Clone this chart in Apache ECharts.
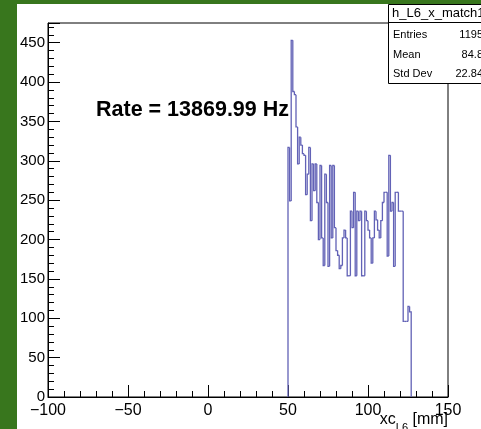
<!DOCTYPE html>
<html>
<head>
<meta charset="utf-8">
<script src="https://cdn.jsdelivr.net/npm/echarts@6/dist/echarts.min.js"></script>
<style>
    html, body {
        margin: 0;
        padding: 0;
        width: 481px;
        height: 429px;
        background: #38761d;
        overflow: hidden;
    }
    #h_L6 {
        position: absolute;
        left: 17px;
        top: 4px;
        width: 464px;
        height: 425px;
        background: #ffffff;
    }
</style>
</head>
<body>
<div id="h_L6"></div>
<script>
// histogram h_L6_x_match1, 1 mm bins starting at 50 mm
var binStart = 50;
var binWidth = 1;
var counts = [
    317, 249, 453, 388, 384, 343, 296, 330, 320, 309,
    307, 257, 283, 317, 224, 296, 262, 296, 247, 200,
    294, 202, 167, 283, 247, 166, 294, 202, 294, 215,
    186, 180, 163, 167, 202, 212, 202, 154, 154, 236,
    215, 260, 154, 236, 224, 236, 154, 154, 236, 224,
    212, 202, 170, 202, 236, 225, 212, 202, 224, 247,
    260, 260, 179, 307, 236, 247, 166, 260, 260, 236,
    236, 236, 96, 96, 96, 115, 108
];
var xTicks = [-100, -50, 0, 50, 100, 150];
var yTicks = [0, 50, 100, 150, 200, 250, 300, 350, 400, 450];
var statNames = ['Entries', 'Mean', 'Std Dev'];
var statValues = ['1195', '84.8', '22.84'];
var histName = 'h_L6_x_match1';
var rateText = 'Rate = 13869.99 Hz';

// one item per bin: [low edge, high edge, previous bin content, content]
var bins = counts.map(function (c, i) {
    return [binStart + i * binWidth, binStart + (i + 1) * binWidth, i > 0 ? counts[i - 1] : 0, c];
});

function renderBin(params, api) {
    var x0 = api.value(0), x1 = api.value(1);
    var prev = api.value(2), cur = api.value(3);
    var pts = [api.coord([x0, prev]), api.coord([x0, cur]), api.coord([x1, cur])];
    if (params.dataIndex === counts.length - 1) {
        pts.push(api.coord([x1, 0]));
    }
    return {
        type: 'polyline',
        shape: {points: pts},
        style: {stroke: '#6262b6', lineWidth: 1.3, fill: null}
    };
}

var chart = echarts.init(document.getElementById('h_L6'));

var statsGraphics = [
    {
        type: 'rect',
        shape: {x: 371.5, y: 0.5, width: 120, height: 79},
        style: {fill: '#ffffff', stroke: '#000000', lineWidth: 1},
        z: 10
    },
    {
        type: 'line',
        shape: {x1: 371.5, y1: 18.5, x2: 470, y2: 18.5},
        style: {stroke: '#000000', lineWidth: 1},
        z: 11
    },
    {
        type: 'text',
        left: 375, top: 3,
        style: {text: histName, font: '13px "Liberation Sans"', fill: '#000'},
        z: 11
    }
];
statNames.forEach(function (name, k) {
    statsGraphics.push({
        type: 'text', x: 376, y: 31 + k * 19.5,
        style: {text: name, font: '11px "Liberation Sans"', fill: '#000', textVerticalAlign: 'middle'},
        z: 11
    });
    statsGraphics.push({
        type: 'text', x: 466, y: 31 + k * 19.5,
        style: {text: statValues[k], font: '11px "Liberation Sans"', fill: '#000',
            textAlign: 'right', textVerticalAlign: 'middle'},
        z: 11
    });
});

var options = {
    animation: false,
    textStyle: {fontFamily: 'Liberation Sans'},
    grid: {
        show: true,
        left: 31,
        right: 33,
        top: 19,
        bottom: 32,
        borderColor: '#000',
        borderWidth: 1,
        outerBoundsMode: 'none'
    },
    xAxis: {
        type: 'value',
        min: xTicks[0],
        max: xTicks[xTicks.length - 1],
        interval: 50,
        axisLine: {show: true, onZero: false, lineStyle: {color: '#000', width: 1}},
        axisTick: {show: true, inside: true, length: 12, lineStyle: {color: '#000'}},
        minorTick: {show: true, splitNumber: 5, length: 6, lineStyle: {color: '#000'}},
        splitLine: {show: false},
        axisLabel: {
            color: '#000',
            fontSize: 16,
            margin: 6,
            formatter: function (v) {
                return xTicks.indexOf(v) >= 0 ? String(v).replace('-', '\u2212') : '';
            }
        }
    },
    yAxis: {
        type: 'value',
        min: 0,
        max: 475,
        interval: 50,
        axisLine: {show: true, onZero: false, lineStyle: {color: '#000', width: 1}},
        axisTick: {show: true, inside: true, length: 12, lineStyle: {color: '#000'}},
        minorTick: {show: true, splitNumber: 5, length: 6, lineStyle: {color: '#000'}},
        splitLine: {show: false},
        axisLabel: {
            color: '#000',
            fontSize: 15,
            margin: 3,
            formatter: function (v) {
                return yTicks.indexOf(v) >= 0 ? String(v) : '';
            }
        }
    },
    graphic: statsGraphics.concat([
        {
            type: 'text',
            left: 79, top: 95,
            style: {text: rateText, font: 'bold 21.5px "Liberation Sans"', fill: '#000'}
        },
        {
            type: 'text',
            right: 33, top: 408,
            style: {
                text: '{a|xc}{s|L6}{a| [mm]}',
                rich: {
                    a: {fontSize: 16, fontFamily: 'Liberation Sans', fill: '#000', verticalAlign: 'bottom', lineHeight: 16},
                    s: {fontSize: 11, fontFamily: 'Liberation Sans', fill: '#000', verticalAlign: 'bottom', lineHeight: 16, padding: [0, 0, -5, 0]}
                }
            }
        }
    ]),
    series: [
        {
            name: histName,
            type: 'custom',
            renderItem: renderBin,
            encode: {x: [0, 1], y: [2, 3]},
            data: bins
        }
    ]
};
chart.setOption(options);
</script>
</body>
</html>
